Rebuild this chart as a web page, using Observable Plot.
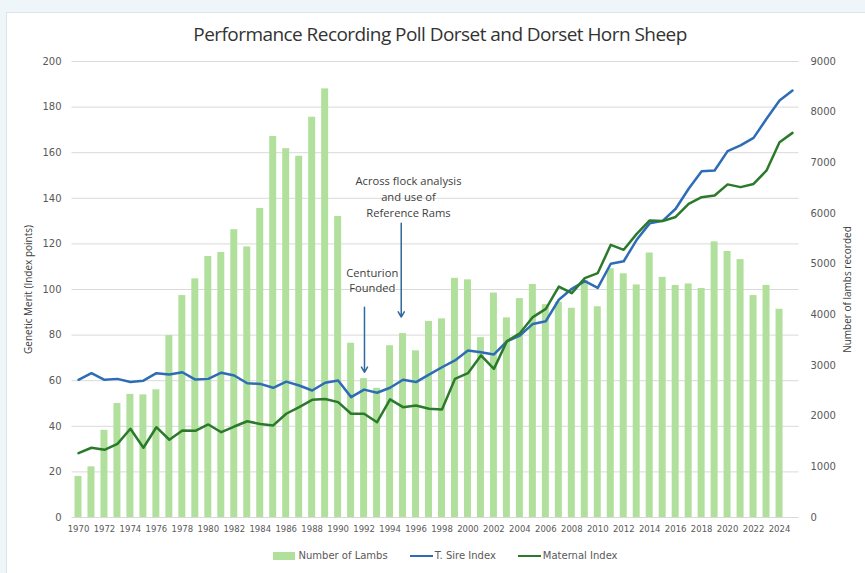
<!DOCTYPE html>
<html>
<head>
<meta charset="utf-8">
<script src="https://cdn.jsdelivr.net/npm/d3@7"></script>
<script src="https://cdn.jsdelivr.net/npm/@observablehq/plot@0.6"></script>
<style>
  html, body { margin: 0; padding: 0; width: 865px; height: 573px; overflow: hidden; background: #eef6fa; }
  #card { position: absolute; left: 6px; top: 12px; width: 880px; height: 580px; background: #fff; border: 1px solid #dde5ea; }
  #title { position: absolute; left: 0; top: 24px; width: 880px; text-align: center; font-family: "Open Sans", sans-serif; font-size: 19px; line-height: 20px; color: #333; white-space: nowrap; }
  #chart { position: absolute; left: 0; top: 50px; }
  #legend { position: absolute; left: 0; top: 549px; width: 891px; display: flex; justify-content: center; align-items: center; font-family: "DejaVu Sans", sans-serif; font-size: 10px; line-height: 14px; color: #595959; white-space: nowrap; }
  .sw { display: inline-block; width: 22px; height: 8px; background: #b0e09c; margin-right: 3px; }
  .ln { display: inline-block; width: 23px; height: 2.5px; margin-right: 2px; }
  .item { display: flex; align-items: center; margin: 0 11px; }
</style>
</head>
<body>
<div id="card"></div>
<div id="title">Performance Recording Poll Dorset and Dorset Horn Sheep</div>
<div id="chart"></div>
<div id="legend">
  <div class="item"><span class="sw"></span><span>Number of Lambs</span></div>
  <div class="item"><span class="ln" style="background:#2e6db5"></span><span>T. Sire Index</span></div>
  <div class="item"><span class="ln" style="background:#2b7a2b"></span><span>Maternal Index</span></div>
</div>
<script>
// ---- Data ----
const years = [1970,1971,1972,1973,1974,1975,1976,1977,1978,1979,1980,1981,1982,1983,1984,1985,1986,1987,1988,1989,1990,1991,1992,1993,1994,1995,1996,1997,1998,1999,2000,2001,2002,2003,2004,2005,2006,2007,2008,2009,2010,2011,2012,2013,2014,2015,2016,2017,2018,2019,2020,2021,2022,2023,2024,2025];
// Number of lambs recorded (1970–2024)
const lambs = [810,1000,1720,2250,2430,2420,2520,3590,4380,4710,5150,5230,5680,5340,6100,7520,7280,7130,7900,8460,5940,3440,2740,2550,3390,3630,3290,3870,3920,4720,4690,3550,4430,3940,4320,4600,4200,4250,4130,4680,4160,4910,4810,4590,5220,4740,4580,4610,4520,5440,5250,5090,4380,4580,4110];
// T. Sire Index (1970–2025)
const sireIndex = [60.4,63.3,60.4,60.8,59.4,60.0,63.3,62.7,63.7,60.5,60.8,63.5,62.3,58.9,58.6,56.9,59.6,57.9,55.7,59.1,60.1,52.8,56.1,54.7,56.9,60.4,59.4,62.7,65.9,68.9,73.2,72.5,71.5,77.3,79.8,84.9,86.1,95.5,100.3,103.7,100.7,111.3,112.4,121.8,129.0,130.1,135.4,144.2,151.9,152.2,160.7,163.2,166.5,174.9,182.9,187.3];
// Maternal Index (1970–2025)
const maternalIndex = [28.2,30.6,29.7,32.3,38.9,30.6,39.6,34.1,38.2,38.0,40.8,37.4,39.9,42.2,41.0,40.4,45.5,48.4,51.6,52.0,50.6,45.5,45.5,41.8,51.8,48.4,49.1,47.7,47.4,60.8,63.3,71.1,65.2,77.3,80.8,87.9,91.5,101.3,98.4,105.0,107.2,119.6,117.4,124.4,130.3,130.0,131.8,137.6,140.5,141.2,146.1,144.9,146.3,152.2,164.6,168.7];
// Tick labels
const xTicks = [1970,1972,1974,1976,1978,1980,1982,1984,1986,1988,1990,1992,1994,1996,1998,2000,2002,2004,2006,2008,2010,2012,2014,2016,2018,2020,2022,2024];
const leftTicks = [0,20,40,60,80,100,120,140,160,180,200];
const rightTicks = [0,1000,2000,3000,4000,5000,6000,7000,8000,9000];
const leftMax = 200, rightMax = 9000;
// Annotations (year, index points)
const annotations = [
  {label: "Centurion\nFounded", textYear: 1992.63, textY: 104.4, arrowYear: 1992.03, from: 92.2, to: 63.7},
  {label: "Across flock analysis\nand use of\nReference Rams", textYear: 1995.42, textY: 140.9, arrowYear: 1994.86, from: 129.1, to: 87.9}
];

// ---- Tables ----
const ratio = leftMax / rightMax;
const lambRows = lambs.map((v, i) => ({year: years[i], lambs: v}));
const sireRows = sireIndex.map((v, i) => ({year: years[i], value: v}));
const matRows = maternalIndex.map((v, i) => ({year: years[i], value: v}));

// fit title width
(function() {
  const t = document.getElementById("title");
  const c = document.createElement("canvas").getContext("2d");
  c.font = '19px "Open Sans"';
  const w = c.measureText(t.textContent).width;
  const n = t.textContent.length;
  t.style.letterSpacing = ((494 - w) / (n - 1)).toFixed(3) + "px";
})();

const chart = Plot.plot({
  width: 865,
  height: 500,
  marginLeft: 71.5,
  marginRight: 66.5,
  marginTop: 11,
  marginBottom: 33,
  x: {domain: [years[0] - 0.5, years[years.length - 1] + 0.5]},
  y: {domain: [0, leftMax]},
  style: {fontFamily: "DejaVu Sans, sans-serif", fontSize: "10px", color: "#595959", background: "transparent"},
  marks: [
    Plot.gridY(leftTicks, {stroke: "#d9d9d9", strokeOpacity: 1, strokeWidth: 1}),
    Plot.rectY(lambRows, {x1: d => d.year - 0.5, x2: d => d.year + 0.5, y: d => d.lambs * ratio, fill: "#b0e09c", insetLeft: 3, insetRight: 3}),
    Plot.lineY(sireRows, {x: "year", y: "value", stroke: "#2e6db5", strokeWidth: 2.5}),
    Plot.lineY(matRows, {x: "year", y: "value", stroke: "#2b7a2b", strokeWidth: 2.5}),
    Plot.arrow(annotations, {x1: "arrowYear", x2: "arrowYear", y1: "from", y2: "to", stroke: "#2f6a9e", strokeWidth: 1.5, headLength: 6}),
    Plot.text(annotations, {x: "textYear", y: "textY", text: "label", lineHeight: 1.42, fontSize: 11.2, fill: "#404040", fontFamily: "Open Sans, sans-serif"}),
    Plot.axisX(xTicks, {tickSize: 0, tickPadding: 8, tickFormat: d => String(d), fontSize: 8.5, label: null}),
    Plot.axisY(leftTicks, {anchor: "left", tickSize: 0, tickPadding: 10.5, label: null}),
    Plot.axisY(rightTicks.map(v => v * ratio), {anchor: "right", tickSize: 0, tickPadding: 11.5, tickFormat: v => String(Math.round(v / ratio)), label: null}),
    Plot.text(["Genetic Merit (Index points)"], {frameAnchor: "left", textAnchor: "middle", dx: -43.5, rotate: -90, fontSize: 10, fill: "#404040", fontFamily: "Open Sans, sans-serif"}),
    Plot.text(["Number of lambs recorded"], {frameAnchor: "right", textAnchor: "middle", dx: 48.5, rotate: -90, fontSize: 10, fill: "#404040", fontFamily: "Open Sans, sans-serif"})
  ]
});
document.getElementById("chart").appendChild(chart);
</script>
</body>
</html>
